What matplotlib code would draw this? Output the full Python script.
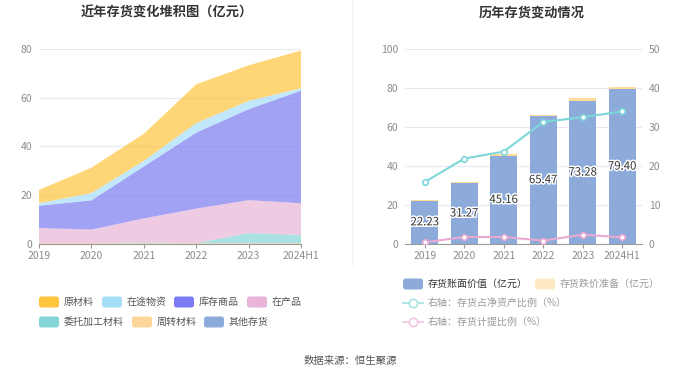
import matplotlib
matplotlib.use("Agg")
import matplotlib.pyplot as plt
import matplotlib.patheffects as pe
from matplotlib.patches import FancyBboxPatch
import numpy as np

plt.rcParams['font.family'] = ['Noto Sans CJK SC', 'DejaVu Sans']

cats = ['2019', '2020', '2021', '2022', '2023', '2024H1']

# 堆积图数据（亿元），自下而上
zhouzhuan = [0.3, 0.3, 0.3, 0.3, 0.3, 0.3]
weituo = [0.0, 0.0, 0.4, 0.05, 4.2, 3.4]
zaichan = [6.25, 5.6, 9.8, 14.15, 13.5, 13.0]
kucun = [9.15, 12.0, 21.3, 31.2, 37.3, 46.2]
zaitu = [1.0, 3.0, 2.3, 3.9, 3.4, 1.0]
yuancailiao = [5.5, 10.4, 11.1, 15.9, 14.6, 15.5]

# 右图数据
book_value = [22.23, 31.27, 45.16, 65.47, 73.28, 79.40]
impairment = [0.1, 0.6, 0.8, 0.5, 1.8, 1.3]
ratio_net_assets = [15.9, 21.9, 23.7, 31.3, 32.5, 34.0]
ratio_provision = [0.43, 1.8, 1.8, 0.85, 2.4, 1.7]

c_yuan = '#FFC53D'
c_zaitu = '#A6DEF8'
c_kucun = '#7B7BF2'
c_zaichan = '#E8B5D8'
c_weituo = '#86D5D8'
c_zhouzhuan = '#FFD699'
c_other = '#8CABDB'
grid_c = '#E6E9F4'
tick_c = '#8C8C8C'

W, H = 700, 378
fig = plt.figure(figsize=(W / 100, H / 100), dpi=100)


def px_axes(x0, y0, x1, y1):
    return fig.add_axes([x0 / W, 1 - y1 / H, (x1 - x0) / W, (y1 - y0) / H])


# 左图
ax1 = px_axes(39, 49, 301, 244)
x = np.arange(len(cats))
ax1.stackplot(x, zhouzhuan, weituo, zaichan, kucun, zaitu, yuancailiao,
              colors=[c_zhouzhuan, c_weituo, c_zaichan, c_kucun, c_zaitu, c_yuan],
              alpha=0.7, linewidth=0, zorder=2)
ax1.set_xlim(0, 5)
ax1.set_ylim(0, 80)
ax1.set_yticks([0, 20, 40, 60, 80])
ax1.set_xticks(x)
ax1.set_xticklabels(cats)
ax1.grid(axis='y', color=grid_c, linewidth=0.8, zorder=0)
ax1.set_axisbelow(True)
for s in ['top', 'right', 'left']:
    ax1.spines[s].set_visible(False)
ax1.spines['bottom'].set_color('#999999')
ax1.spines['bottom'].set_zorder(3)
ax1.tick_params(axis='y', length=0, colors=tick_c, labelsize=7.5, pad=5)
ax1.tick_params(axis='x', length=3, color='#999999', colors=tick_c, labelsize=7.5, pad=2)

# 右图
ax2 = px_axes(405, 49, 642, 244)
ax2.bar(x, book_value, width=0.69, color=c_other, zorder=2)
ax2.bar(x, impairment, width=0.69, bottom=book_value, color='#FFDC9A', zorder=2)
for xi, v in zip(x, book_value):
    ax2.text(xi, v / 2, f'{v:.2f}', ha='center', va='center', fontsize=8.2, color='#333333',
             zorder=5, path_effects=[pe.withStroke(linewidth=2.2, foreground='white')])
ax2.set_xlim(-0.5, 5.5)
ax2.set_ylim(0, 100)
ax2.set_yticks([0, 20, 40, 60, 80, 100])
ax2.set_xticks(x)
ax2.set_xticklabels(cats)
ax2.grid(axis='y', color=grid_c, linewidth=0.8, zorder=0)
ax2.set_axisbelow(True)
for s in ['top', 'right', 'left']:
    ax2.spines[s].set_visible(False)
ax2.spines['bottom'].set_color('#999999')
ax2.tick_params(axis='y', length=0, colors=tick_c, labelsize=7.5, pad=5)
ax2.tick_params(axis='x', length=3, color='#999999', colors=tick_c, labelsize=7.5, pad=2)

ax3 = ax2.twinx()
ax3.plot(x, ratio_net_assets, color='#7DD6D8', linewidth=1.5, marker='o', markersize=4,
         markerfacecolor='white', markeredgewidth=1.2, zorder=4)
ax3.plot(x, ratio_provision, color='#E9A9D2', linewidth=1.5, marker='o', markersize=4,
         markerfacecolor='white', markeredgewidth=1.2, zorder=4)
ax3.set_ylim(0, 50)
ax3.set_yticks([0, 10, 20, 30, 40, 50])
for s in ['top', 'right', 'left', 'bottom']:
    ax3.spines[s].set_visible(False)
ax3.tick_params(axis='y', length=0, colors=tick_c, labelsize=7.5, pad=5)

# 覆盖层：标题、图例、来源
ov = fig.add_axes([0, 0, 1, 1], zorder=10)
ov.set_xlim(0, W)
ov.set_ylim(H, 0)
ov.axis('off')
ov.patch.set_alpha(0)
ov.plot([352, 352], [0, 265], color='#F3F3F3', linewidth=1)

ov.text(167, 13, '近年存货变化堆积图（亿元）', ha='center', va='center', fontsize=9.5,
        fontweight='bold', color='#333333')
ov.text(532, 13, '历年存货变动情况', ha='center', va='center', fontsize=9.5,
        fontweight='bold', color='#333333')
ov.text(350, 361, '数据来源：恒生聚源', ha='center', va='center', fontsize=7.5, color='#555555')


def swatch(x0, yc, color, label, tcolor='#555555'):
    ov.add_patch(FancyBboxPatch((x0, yc - 5.5), 20, 11,
                                boxstyle='round,pad=0,rounding_size=2.5',
                                facecolor=color, edgecolor='none'))
    ov.text(x0 + 25, yc, label, ha='left', va='center', fontsize=7.2, color=tcolor)


swatch(39, 302, c_yuan, '原材料')
swatch(102, 302, c_zaitu, '在途物资')
swatch(174, 302, c_kucun, '库存商品')
swatch(247, 302, c_zaichan, '在产品')
swatch(39, 322, c_weituo, '委托加工材料')
swatch(132, 322, c_zhouzhuan, '周转材料')
swatch(204, 322, c_other, '其他存货')

swatch(403, 284, c_other, '存货账面价值（亿元）', tcolor='#333333')
swatch(535, 284, '#FFE9C4', '存货跌价准备（亿元）', tcolor='#999999')


def line_icon(x0, yc, color, label):
    ov.plot([x0, x0 + 20], [yc, yc], color=color, linewidth=1.3)
    ov.plot([x0 + 10], [yc], marker='o', markersize=6, markerfacecolor='white',
            markeredgecolor=color, markeredgewidth=1.2)
    ov.text(x0 + 25, yc, label, ha='left', va='center', fontsize=7.2, color='#999999')


line_icon(403, 303, '#A9E3E5', '右轴：存货占净资产比例（%）')
line_icon(403, 322, '#F2C7E2', '右轴：存货计提比例（%）')

fig.savefig('out.png', dpi=100)
